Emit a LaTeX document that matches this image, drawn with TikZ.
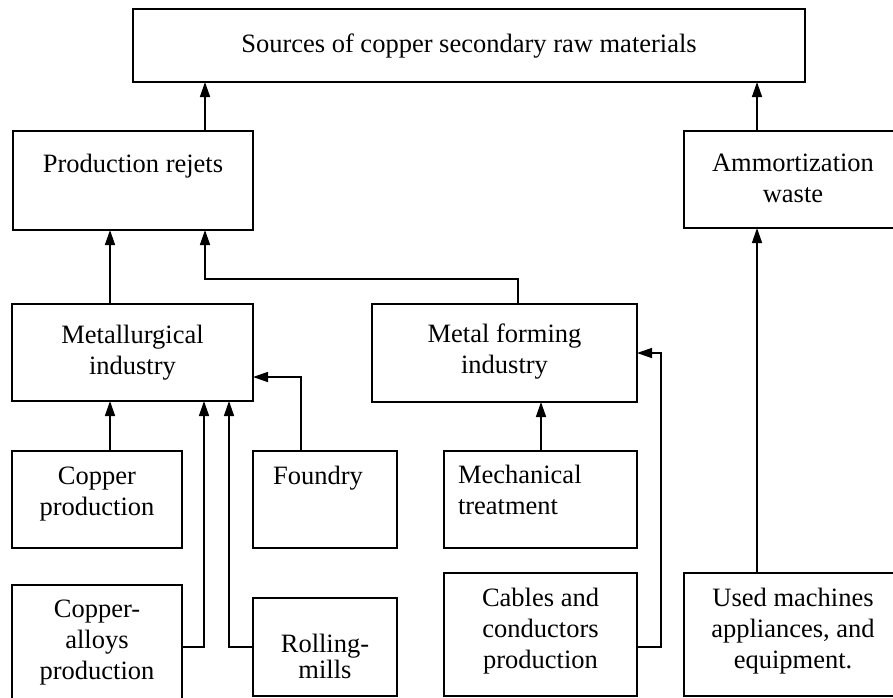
\documentclass[tikz,border=0pt]{standalone}
\usepackage{fontspec}
\setmainfont{Liberation Serif}
\usetikzlibrary{arrows.meta}
\newcommand\bxt[4]{\parbox[c][#2][t]{#1}{\centering\vspace*{#3}\strut #4}}
\tikzset{
  box/.style={draw, line width=1.6pt, inner sep=0pt, outer sep=0pt, anchor=north west},
  arr/.style={line width=1.5pt, line join=miter, -{Triangle[length=15pt,width=10pt]}},
}
\begin{document}
\begin{tikzpicture}[x=1pt,y=-1pt,font=\fontsize{26.5pt}{30.8pt}\selectfont]
\useasboundingbox (0,0) rectangle (893,697);
\fill[white] (0,0) rectangle (893,697);
\clip (0,0) rectangle (893,697);
% boxes
\node[box] (top) at (133,9) {\bxt{672pt}{73pt}{22.4pt}{Sources of copper secondary raw materials}};
\node[box] (prod) at (13,131) {\bxt{240pt}{99pt}{20.4pt}{Production rejets}};
\node[box] (amm) at (684,131) {\bxt{218pt}{97pt}{19.4pt}{Ammortization\\waste}};
\node[box] (met) at (12,304) {\bxt{241pt}{97pt}{18.4pt}{Metallurgical\\industry}};
\node[box] (mf) at (372,304) {\bxt{265pt}{98pt}{17.4pt}{Metal forming\\industry}};
\node[box] (cp) at (12,451) {\bxt{170pt}{97pt}{12.4pt}{Copper\\production}};
\node[box] (fd) at (253,451) {\bxt{144pt}{97pt}{12.4pt}{\hspace*{-14pt}Foundry}};
\node[box] (mt) at (444,451) {\parbox[c][97pt][t]{193pt}{\raggedright\leftskip=14pt\vspace*{11.4pt}\strut Mechanical\\treatment}};
\node[box] (ca) at (12,585) {\bxt{170pt}{115pt}{11.4pt}{Copper-\\alloys\\production}};
\node[box] (rm) at (253,598) {\bxt{144pt}{98pt}{33.4pt}{Rolling-\\[-5pt]mills}};
\node[box] (cc) at (444,573) {\bxt{193pt}{123pt}{12.4pt}{Cables and\\conductors\\production}};
\node[box] (um) at (684,573) {\bxt{218pt}{123pt}{12.4pt}{Used machines\\appliances, and\\equipment.}};
% helper coordinates
\coordinate (x205) at (205,0);
\coordinate (x757) at (757,0);
\coordinate (x110) at (110,0);
\coordinate (k1) at (518,279);
\coordinate (k2) at (205,279);
\coordinate (ca1) at (204,647);
\coordinate (rm1) at (229,647);
\coordinate (fd1) at (301,377);
\coordinate (mt1) at (541,0);
\coordinate (cc1) at (661,647);
\coordinate (cc2) at (661,353);
% connectors
\draw[arr] (prod.north -| x205) -- (top.south -| x205);
\draw[arr] (amm.north -| x757) -- (top.south -| x757);
\draw[arr] (met.north -| x110) -- (prod.south -| x110);
\draw[arr] (mf.north -| k1) -- (k1) -- (k2) -- (prod.south -| k2);
\draw[arr] (cp.north -| x110) -- (met.south -| x110);
\draw[arr] (ca.east |- ca1) -- (ca1) -- (met.south -| ca1);
\draw[arr] (rm.west |- rm1) -- (rm1) -- (met.south -| rm1);
\draw[arr] (fd.north -| fd1) -- (fd1) -- (met.east |- fd1);
\draw[arr] (mt.north -| mt1) -- (mf.south -| mt1);
\draw[arr] (cc.east |- cc1) -- (cc1) -- (cc2) -- (mf.east |- cc2);
\draw[arr] (um.north -| x757) -- (amm.south -| x757);
\end{tikzpicture}
\end{document}
